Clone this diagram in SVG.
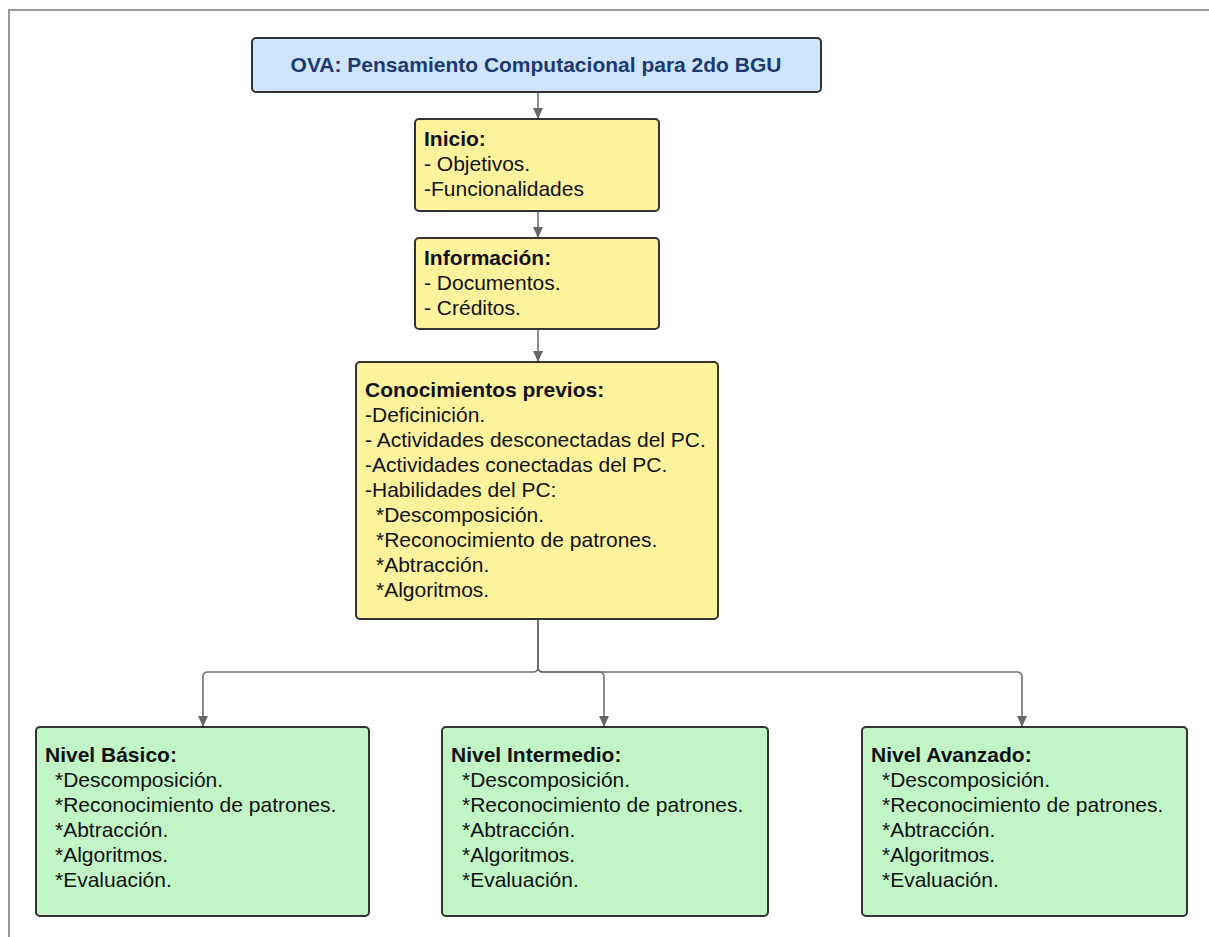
<svg xmlns="http://www.w3.org/2000/svg" width="1209" height="937" viewBox="0 0 1209 937">
  <defs>
    <marker id="arr" viewBox="0 0 10 10" refX="10" refY="5" markerWidth="12" markerHeight="11" markerUnits="userSpaceOnUse" orient="auto">
      <path d="M0,0.5 L10,5 L0,9.5 Z" fill="#666"/>
    </marker>
    <style>
      .box{stroke:#333;stroke-width:2}
      .blue{fill:#cfe4fd}
      .yel{fill:#fdf39c}
      .grn{fill:#c2f5c6}
      text{font-family:"Liberation Sans",Arial,sans-serif;font-size:21px;fill:#111}
      .b{font-weight:bold}
      .title{font-weight:bold;fill:#1c3a70;font-size:21px}
      .con{fill:none;stroke:#707070;stroke-width:1.6}
    </style>
  </defs>
  <rect width="1209" height="937" fill="#fff"/>
  <path d="M9 937 V10 H1209" fill="none" stroke="#999" stroke-width="2"/>

  <g id="connectors">
    <path class="con" d="M538 92 V119" marker-end="url(#arr)"/>
    <path class="con" d="M538 211 V238" marker-end="url(#arr)"/>
    <path class="con" d="M538 329 V362" marker-end="url(#arr)"/>
    <path class="con" d="M538 619 V667 Q538 672 533 672 H208 Q203 672 203 677 V727" marker-end="url(#arr)"/>
    <path class="con" d="M538 619 V667 Q538 672 543 672 H599 Q604 672 604 677 V727" marker-end="url(#arr)"/>
    <path class="con" d="M538 619 V667 Q538 672 543 672 H1017 Q1022 672 1022 677 V727" marker-end="url(#arr)"/>
  </g>

  <g id="title">
    <rect class="box blue" x="252" y="38" width="569" height="54" rx="4"/>
    <text class="title" x="536" y="72" text-anchor="middle">OVA: Pensamiento Computacional para 2do BGU</text>
  </g>

  <g id="inicio">
    <rect class="box yel" x="415" y="119" width="244" height="92" rx="4"/>
    <text x="424" y="146" class="b">Inicio:</text>
    <text x="424" y="171">- Objetivos.</text>
    <text x="424" y="196">-Funcionalidades</text>
  </g>

  <g id="informacion">
    <rect class="box yel" x="415" y="238" width="244" height="91" rx="4"/>
    <text x="424" y="265" class="b">Información:</text>
    <text x="424" y="290">- Documentos.</text>
    <text x="424" y="315">- Créditos.</text>
  </g>

  <g id="conocimientos">
    <rect class="box yel" x="356" y="362" width="362" height="257" rx="4"/>
    <text x="365" y="397" class="b">Conocimientos previos:</text>
    <text x="365" y="422">-Deficinición.</text>
    <text x="365" y="447">- Actividades desconectadas del PC.</text>
    <text x="365" y="472">-Actividades conectadas del PC.</text>
    <text x="365" y="497">-Habilidades del PC:</text>
    <text x="376" y="522">*Descomposición.</text>
    <text x="376" y="547">*Reconocimiento de patrones.</text>
    <text x="376" y="572">*Abtracción.</text>
    <text x="376" y="597">*Algoritmos.</text>
  </g>

  <g id="basico">
    <rect class="box grn" x="36" y="727" width="333" height="189" rx="4"/>
    <text x="45" y="762" class="b">Nivel Básico:</text>
    <text x="55" y="787">*Descomposición.</text>
    <text x="55" y="812">*Reconocimiento de patrones.</text>
    <text x="55" y="837">*Abtracción.</text>
    <text x="55" y="862">*Algoritmos.</text>
    <text x="55" y="887">*Evaluación.</text>
  </g>

  <g id="intermedio">
    <rect class="box grn" x="442" y="727" width="326" height="189" rx="4"/>
    <text x="451" y="762" class="b">Nivel Intermedio:</text>
    <text x="462" y="787">*Descomposición.</text>
    <text x="462" y="812">*Reconocimiento de patrones.</text>
    <text x="462" y="837">*Abtracción.</text>
    <text x="462" y="862">*Algoritmos.</text>
    <text x="462" y="887">*Evaluación.</text>
  </g>

  <g id="avanzado">
    <rect class="box grn" x="862" y="727" width="325" height="189" rx="4"/>
    <text x="871" y="762" class="b">Nivel Avanzado:</text>
    <text x="882" y="787">*Descomposición.</text>
    <text x="882" y="812">*Reconocimiento de patrones.</text>
    <text x="882" y="837">*Abtracción.</text>
    <text x="882" y="862">*Algoritmos.</text>
    <text x="882" y="887">*Evaluación.</text>
  </g>
</svg>
